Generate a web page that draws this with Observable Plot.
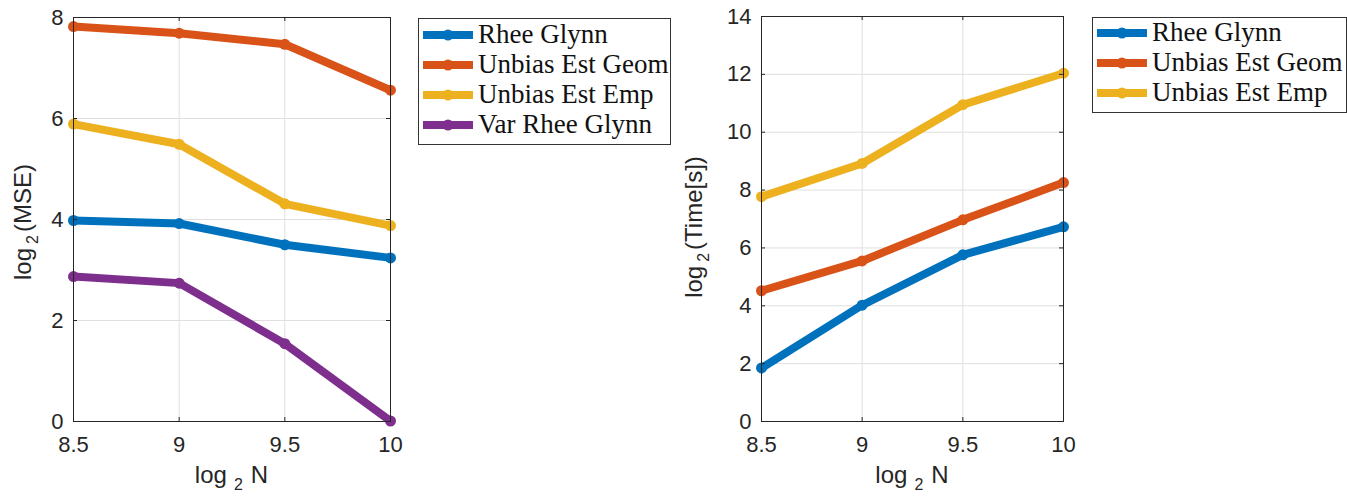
<!DOCTYPE html>
<html>
<head>
<meta charset="utf-8">
<script src="https://cdn.jsdelivr.net/npm/d3@7"></script>
<script src="https://cdn.jsdelivr.net/npm/@observablehq/plot@0.6"></script>
<style>
  html, body { margin: 0; padding: 0; background: #fff; }
  #wrap { position: relative; width: 1347px; height: 497px; overflow: hidden; }
  #wrap svg { position: absolute; top: 0; }
</style>
</head>
<body>
<div id="wrap"></div>
<script>
// ---- data ----
const xVals = [8.5, 9, 9.5, 10];
const seriesNames = ["Rhee Glynn", "Unbias Est Geom", "Unbias Est Emp", "Var Rhee Glynn"];
const seriesColors = ["#0072BD", "#D95319", "#EDB120", "#7E2F8E"];

const mseRhee = [3.98, 3.92, 3.50, 3.24];
const mseGeom = [7.82, 7.69, 7.47, 6.56];
const mseEmp  = [5.89, 5.49, 4.31, 3.88];
const mseVar  = [2.87, 2.74, 1.54, 0.01];

const timeRhee = [1.85, 4.02, 5.76, 6.73];
const timeGeom = [4.52, 5.55, 6.97, 8.26];
const timeEmp  = [7.77, 8.92, 10.95, 12.04];

const xTicks = [8.5, 9, 9.5, 10];
const mseTicks = [0, 2, 4, 6, 8];
const timeTicks = [0, 2, 4, 6, 8, 10, 12, 14];

function toRows(names, arrays) {
  const rows = [];
  names.forEach((name, i) => {
    arrays[i].forEach((v, j) => rows.push({name, x: xVals[j], y: v}));
  });
  return rows;
}

const mseRows = toRows(seriesNames, [mseRhee, mseGeom, mseEmp, mseVar]);
const timeRows = toRows(seriesNames.slice(0, 3), [timeRhee, timeGeom, timeEmp]);

const H = 497;
const textColor = "#262626";
const sans = "'Liberation Sans', Arial, sans-serif";

function panel(o) {
  const ph = H - o.mt - o.mb;
  const pw = o.width - o.ml - o.mr;
  const svg = Plot.plot({
    width: o.width,
    height: H,
    marginLeft: o.ml, marginRight: o.mr, marginTop: o.mt, marginBottom: o.mb,
    style: {fontFamily: sans, fontSize: "22px", color: textColor, background: "#fff", overflow: "visible"},
    x: {domain: [8.5, 10]},
    y: {domain: o.yDomain},
    color: {domain: seriesNames, range: seriesColors},
    marks: [
      Plot.gridX(xTicks, {stroke: "#dfdfdf", strokeOpacity: 1, strokeWidth: 1}),
      Plot.gridY(o.yTicks, {stroke: "#dfdfdf", strokeOpacity: 1, strokeWidth: 1}),
      Plot.line(o.rows, {x: "x", y: "y", z: "name", stroke: "name", strokeWidth: 8}),
      Plot.dot(o.rows, {x: "x", y: "y", fill: "name", r: 5.5}),
      Plot.frame({stroke: textColor, strokeWidth: 1}),
      Plot.ruleX(xTicks, {x: d => d, insetTop: ph - 4, stroke: textColor}),
      Plot.ruleX(xTicks, {x: d => d, insetBottom: ph - 4, stroke: textColor}),
      Plot.ruleY(o.yTicks, {y: d => d, insetRight: pw - 4, stroke: textColor}),
      Plot.ruleY(o.yTicks, {y: d => d, insetLeft: pw - 4, stroke: textColor}),
      Plot.axisX(xTicks, {tickSize: 0, tickPadding: 15, tickFormat: d => String(d), label: null, fontSize: 22}),
      Plot.axisY(o.yTicks, {tickSize: 0, tickPadding: 10, tickFormat: d => String(d), label: null, fontSize: 22})
    ]
  });
  const s = d3.select(svg);
  const cx = o.ml + pw / 2;
  // x label: log_2 N
  const xl = s.append("text")
    .attr("x", cx).attr("y", 483)
    .attr("text-anchor", "middle")
    .attr("fill", textColor)
    .attr("font-family", sans)
    .attr("font-size", 24);
  xl.append("tspan").text("log");
  xl.append("tspan").attr("dx", 7).attr("dy", 7).attr("font-size", 16).text("2");
  xl.append("tspan").attr("dx", 8).attr("dy", -7).text("N");
  // y label
  const yl = s.append("text")
    .attr("transform", `translate(${o.yLabelX},${o.yLabelY}) rotate(-90)`)
    .attr("text-anchor", "middle")
    .attr("fill", textColor)
    .attr("font-family", sans)
    .attr("font-size", 24);
  yl.append("tspan").text("log");
  yl.append("tspan").attr("dx", 4).attr("dy", 7).attr("font-size", 16).text("2");
  yl.append("tspan").attr("dx", 3).attr("dy", -7).text(o.yLabel);
  // legend
  const L = o.legend;
  const g = s.append("g");
  g.append("rect").attr("x", L.x + 0.5).attr("y", L.y + 0.5).attr("width", L.w).attr("height", L.h)
    .attr("fill", "#fff").attr("stroke", "#333").attr("stroke-width", 1);
  L.names.forEach((name, i) => {
    const ry = L.row0 + i * 30;
    const c = seriesColors[seriesNames.indexOf(name)];
    g.append("line").attr("x1", L.x + 5).attr("x2", L.x + 55).attr("y1", ry).attr("y2", ry)
      .attr("stroke", c).attr("stroke-width", 8);
    g.append("circle").attr("cx", L.x + 30).attr("cy", ry).attr("r", 5.5).attr("fill", c);
    g.append("text").attr("x", L.x + 60).attr("y", ry + 8)
      .attr("text-anchor", "start")
      .attr("font-family", "'Liberation Serif', 'Times New Roman', serif")
      .attr("font-size", 27).attr("fill", "#111").text(name);
  });
  return svg;
}

const left = panel({
  width: 680, ml: 73, mr: 290, mt: 17, mb: 76,
  yDomain: [0, 8], yTicks: mseTicks, rows: mseRows,
  yLabelX: 31, yLabelY: 222, yLabel: "(MSE)",
  legend: {x: 418, y: 18, w: 252, h: 126, row0: 35, names: seriesNames}
});
const right = panel({
  width: 667, ml: 81, mr: 284, mt: 16, mb: 76,
  yDomain: [0, 14], yTicks: timeTicks, rows: timeRows,
  yLabelX: 22, yLabelY: 227, yLabel: "(Time[s])",
  legend: {x: 412, y: 17, w: 254, h: 95, row0: 33, names: seriesNames.slice(0, 3)}
});
left.style.left = "0px";
right.style.left = "680px";
document.getElementById("wrap").append(left, right);
</script>
</body>
</html>
